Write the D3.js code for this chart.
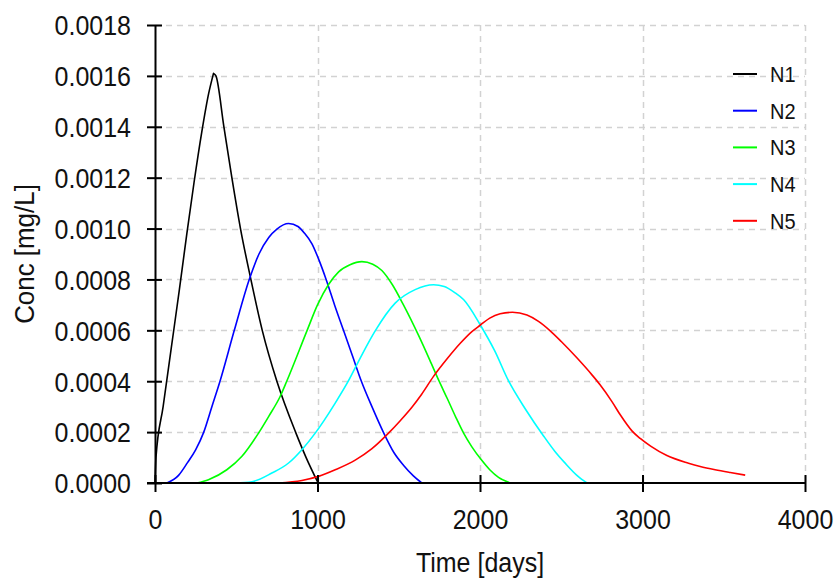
<!DOCTYPE html>
<html lang="en">
<head>
  <meta charset="UTF-8">
  <title>Conc vs Time</title>
  <script src="https://d3js.org/d3.v7.min.js"></script>
  <style>
    body {
      margin: 0;
      background: #fff;
      overflow: hidden;
    }
    svg {
      display: block;
    }
    text {
      font-family: "Liberation Sans", Arial, sans-serif;
      fill: #111;
    }
  </style>
</head>
<body>
<svg id="chart" width="834" height="578"></svg>

<script>
// series: [time in days, concentration in mg/L]
const seriesNames = ['N1', 'N2', 'N3', 'N4', 'N5'];
const seriesColors = ['#000000', '#0000ff', '#00ff00', '#00ffff', '#ff0000'];

const n1 = [
  [0, 0], [6, 0.0001], [50, 0.0003], [100, 0.00053], [150, 0.00076],
  [196, 0.00098], [240, 0.00118], [288, 0.00138], [330, 0.00153], [360, 0.00161],
  [375, 0.0016], [424, 0.0014], [473, 0.0012], [526, 0.001], [590, 0.0008],
  [660, 0.0006], [750, 0.0004], [865, 0.0002], [930, 0.0001], [1004, 0]
];
const n2 = [
  [73, 0], [145, 0.00003], [200, 0.00008], [250, 0.00013], [300, 0.0002],
  [350, 0.0003], [400, 0.0004], [488, 0.0006], [580, 0.0008], [640, 0.0009],
  [700, 0.000965], [750, 0.000998], [822, 0.00102], [880, 0.001008], [920, 0.000982],
  [966, 0.00094], [1010, 0.000875], [1052, 0.000802], [1105, 0.0007], [1160, 0.0006],
  [1215, 0.0005], [1270, 0.0004], [1335, 0.0003], [1405, 0.0002], [1470, 0.00012],
  [1529, 0.00007], [1590, 0.000028], [1642, 0]
];
const n3 = [
  [258, 0], [329, 0.000013], [442, 0.000052], [535, 0.000105], [637, 0.000196],
  [700, 0.000262], [770, 0.00034], [812, 0.000402], [935, 0.000598], [1000, 0.0007],
  [1068, 0.00078], [1130, 0.00083], [1200, 0.000858], [1273, 0.00087], [1340, 0.00086],
  [1396, 0.000835], [1460, 0.00078], [1529, 0.0007], [1622, 0.00058], [1700, 0.00047],
  [1745, 0.000405], [1800, 0.00033], [1850, 0.00026], [1900, 0.000195], [1950, 0.000142],
  [2012, 0.000088], [2060, 0.000052], [2114, 0.000022], [2186, 0]
];
const n4 = [
  [494, 0], [596, 0.000005], [719, 0.000039], [822, 0.0000786], [904, 0.000131],
  [986, 0.000196], [1109, 0.000314], [1191, 0.000402], [1270, 0.0005], [1355, 0.000598],
  [1478, 0.000707], [1601, 0.00076], [1714, 0.000779], [1780, 0.000772], [1847, 0.000747],
  [1900, 0.00072], [2001, 0.000622], [2090, 0.00052], [2175, 0.000402], [2280, 0.00029],
  [2391, 0.000185], [2460, 0.000125], [2524, 0.000078], [2600, 0.000028], [2658, 0]
];
const n5 = [
  [760, 0], [904, 0.00001], [1006, 0.000026], [1109, 0.000052], [1232, 0.00009],
  [1335, 0.000135], [1437, 0.000196], [1509, 0.000245], [1581, 0.000298], [1640, 0.000348],
  [1714, 0.000419], [1800, 0.00049], [1880, 0.00055], [1950, 0.000595], [2001, 0.00062],
  [2060, 0.000648], [2124, 0.000665], [2200, 0.000671], [2289, 0.00066], [2360, 0.000635],
  [2432, 0.000598], [2500, 0.000556], [2596, 0.000492], [2689, 0.000425], [2740, 0.000385],
  [2812, 0.00032], [2863, 0.000268], [2935, 0.000205], [2986, 0.000175], [3050, 0.000145],
  [3150, 0.000108], [3283, 0.000078], [3355, 0.000065], [3447, 0.000052], [3540, 0.000041],
  [3632, 0.000031]
];
const seriesData = [n1, n2, n3, n4, n5];

const xTicks = [0, 1000, 2000, 3000, 4000];
const yTicks = [0, 0.0002, 0.0004, 0.0006, 0.0008, 0.0010, 0.0012, 0.0014, 0.0016, 0.0018];

const xTitle = 'Time [days]';
const yTitle = 'Conc [mg/L]';

const margin = { left: 155, top: 25, right: 29, bottom: 95 };
const width = 834, height = 578;
const innerW = width - margin.left - margin.right;
const innerH = height - margin.top - margin.bottom;
const stretch = 1.12; // text in the source is drawn a bit taller than wide

const svg = d3.select('#chart');
const g = svg.append('g').attr('transform', `translate(${margin.left},${margin.top})`);

const x = d3.scaleLinear().domain([0, 4000]).range([0, innerW]);
const y = d3.scaleLinear().domain([0, 0.0018]).range([innerH, 0]);

// grid
const grid = g.append('g').attr('class', 'grid')
  .attr('stroke', '#d2d2d2').attr('stroke-width', 1.5).attr('stroke-dasharray', '6,5');
grid.selectAll('line.h').data(yTicks.filter(d => d > 0)).enter().append('line')
  .attr('class', 'h')
  .attr('x1', 0).attr('x2', innerW)
  .attr('y1', d => Math.round(y(d)) + 0.5).attr('y2', d => Math.round(y(d)) + 0.5);
grid.selectAll('line.v').data(xTicks.filter(d => d > 0)).enter().append('line')
  .attr('class', 'v')
  .attr('y1', 0).attr('y2', innerH)
  .attr('x1', d => Math.round(x(d)) + 0.5).attr('x2', d => Math.round(x(d)) + 0.5);

// curves: each series is split at its peak so sharp peaks (N1) stay sharp
const line = d3.line().x(d => x(d[0])).y(d => y(d[1])).curve(d3.curveMonotoneX);
function pathFor(data) {
  let iMax = d3.maxIndex(data, d => d[1]);
  const up = data.slice(0, iMax + 1);
  const down = data.slice(iMax);
  return line(up) + line(down).replace(/^M[^LC]*/, '');
}
g.append('g').selectAll('path').data(seriesData).enter().append('path')
  .attr('d', (d, i) => i === 0 ? pathFor(d) : line(d))
  .attr('fill', 'none')
  .attr('stroke', (d, i) => seriesColors[i])
  .attr('stroke-width', 1.6)
  .attr('stroke-linejoin', 'round');

// axes
const yAxis = g.append('g').attr('class', 'y-axis')
  .call(d3.axisLeft(y).tickValues(yTicks).tickFormat(d3.format('.4f')).tickSizeOuter(0));
const xAxis = g.append('g').attr('class', 'x-axis')
  .attr('transform', `translate(0,${innerH})`)
  .call(d3.axisBottom(x).tickValues(xTicks).tickFormat(d3.format('d')).tickSizeOuter(0));

[yAxis, xAxis].forEach(a => {
  a.select('.domain').attr('stroke', '#000').attr('stroke-width', 2);
  a.selectAll('.tick line').attr('stroke', '#000').attr('stroke-width', 2);
  a.selectAll('.tick text')
    .attr('font-size', 25)
    .attr('font-family', '"Liberation Sans", Arial, sans-serif')
    .attr('fill', '#111');
});
yAxis.selectAll('.tick line').attr('x1', -8).attr('x2', 7);
yAxis.selectAll('.tick text')
  .attr('x', -24).attr('y', 0).attr('dy', '0.35em')
  .attr('transform', `scale(1,${stretch})`);
xAxis.selectAll('.tick line').attr('y1', -8).attr('y2', 9);
xAxis.selectAll('.tick text')
  .attr('y', 46 / stretch).attr('dy', 0)
  .attr('transform', `scale(1,${stretch})`);
// the x axis line starts left of the y axis, like the source
xAxis.select('.domain').attr('d', `M-8,0H${innerW}`);

// axis titles
svg.append('text')
  .attr('transform', `translate(${margin.left + innerW / 2},572) scale(1,${stretch})`)
  .attr('text-anchor', 'middle')
  .attr('font-size', 25)
  .text(xTitle);
svg.append('text')
  .attr('transform', `translate(34,${margin.top + innerH / 2}) rotate(-90) scale(1.08,1.12)`)
  .attr('text-anchor', 'middle')
  .attr('font-size', 24)
  .text(yTitle);

// legend
const legend = svg.append('g').attr('transform', 'translate(733,74)');
const item = legend.selectAll('g').data(seriesNames).enter().append('g')
  .attr('transform', (d, i) => `translate(0,${i * 36.7})`);
item.append('line')
  .attr('x1', 0).attr('x2', 24).attr('y1', 0).attr('y2', 0)
  .attr('stroke', (d, i) => seriesColors[i]).attr('stroke-width', 2);
item.append('text')
  .attr('transform', `translate(37,0) scale(1,${stretch})`)
  .attr('dy', '0.36em')
  .attr('font-size', 20)
  .text(d => d);
</script>
</body>
</html>
